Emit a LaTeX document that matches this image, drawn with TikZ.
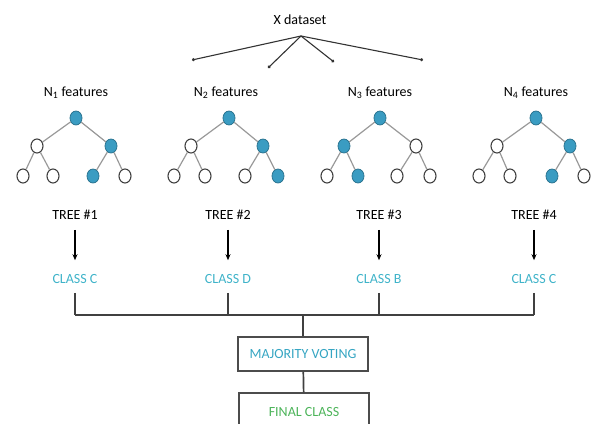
\documentclass[tikz,border=0pt]{standalone}
\usepackage{fontspec}
\setmainfont{Carlito}
\usetikzlibrary{arrows.meta,shapes.geometric}
\definecolor{nodeblue}{HTML}{3A9CC2}
\definecolor{classcyan}{HTML}{3FB3C9}
\definecolor{votecol}{HTML}{35A5C2}
\definecolor{finalgreen}{HTML}{4DB45A}
\begin{document}
\begin{tikzpicture}[x=1pt,y=-1pt,
  on/.style={ellipse,minimum width=12pt,minimum height=14pt,inner sep=0pt,draw=nodeblue!75!black,fill=nodeblue,line width=0.8pt},
  off/.style={ellipse,minimum width=12pt,minimum height=14pt,inner sep=0pt,draw=black!75,fill=white,line width=1.1pt},
  tedge/.style={draw=black!40,line width=1.2pt},
  lbl/.style={font=\fontsize{14}{16}\selectfont,text=black,inner sep=0pt},
  cls/.style={font=\fontsize{14}{16}\selectfont,text=classcyan,inner sep=0pt},
  conn/.style={draw=black!75,line width=1.7pt},
  arr/.style={draw=black,line width=1.4pt,-{Stealth[length=6pt,width=5pt]}},
  spread/.style={draw=black!80,line width=1.1pt,-{Circle[length=3pt]}},
  box/.style={draw=black!70,line width=1.5pt,minimum width=130pt,inner sep=0pt,font=\fontsize{14}{16}\selectfont}
]
\useasboundingbox (0,0) rectangle (597,423);
\clip (0,0) rectangle (597,423);

% dataset
\node[lbl] (xd) at (300,20) {X dataset};
\coordinate (src) at (301,36);
\coordinate (e1) at (192,60);
\coordinate (e2) at (268,68);
\coordinate (e3) at (334,62);
\coordinate (e4) at (423,60);
\foreach \e in {e1,e2,e3,e4} \draw[spread] (src) -- (\e);

% feature labels
\node[lbl] (f1) at (76,93) {N\textsubscript{1} features};
\node[lbl] (f2) at (226,93) {N\textsubscript{2} features};
\node[lbl] (f3) at (380,93) {N\textsubscript{3} features};
\node[lbl] (f4) at (536,93) {N\textsubscript{4} features};

% tree 1
\node[on]  (r1)  at (76,118) {};
\node[off] (a1)  at (37,146) {};
\node[on]  (b1)  at (111,146) {};
\node[off] (l11) at (23,176) {};
\node[off] (l12) at (53,176) {};
\node[on]  (l13) at (93,176) {};
\node[off] (l14) at (125,176) {};
% tree 2
\node[on]  (r2)  at (229,118) {};
\node[off] (a2)  at (191,146) {};
\node[on]  (b2)  at (263,146) {};
\node[off] (l21) at (174,176) {};
\node[off] (l22) at (205,176) {};
\node[off] (l23) at (245,176) {};
\node[on]  (l24) at (278,176) {};
% tree 3
\node[on]  (r3)  at (380,118) {};
\node[on]  (a3)  at (344,146) {};
\node[off] (b3)  at (416,146) {};
\node[off] (l31) at (327,176) {};
\node[on]  (l32) at (358,176) {};
\node[off] (l33) at (397,176) {};
\node[off] (l34) at (430,176) {};
% tree 4
\node[on]  (r4)  at (536,118) {};
\node[off] (a4)  at (497,146) {};
\node[on]  (b4)  at (570,146) {};
\node[off] (l41) at (479,176) {};
\node[off] (l42) at (510,176) {};
\node[on]  (l43) at (552,176) {};
\node[off] (l44) at (584,176) {};

\foreach \i in {1,2,3,4}{
  \draw[tedge] (r\i) -- (a\i);
  \draw[tedge] (r\i) -- (b\i);
  \draw[tedge] (a\i) -- (l\i1);
  \draw[tedge] (a\i) -- (l\i2);
  \draw[tedge] (b\i) -- (l\i3);
  \draw[tedge] (b\i) -- (l\i4);
}

% tree labels
\node[lbl] (t1) at (75,215) {TREE \#1};
\node[lbl] (t2) at (228,215) {TREE \#2};
\node[lbl] (t3) at (379,215) {TREE \#3};
\node[lbl] (t4) at (534,215) {TREE \#4};

% classes
\node[cls] (c1) at (75,279) {CLASS C};
\node[cls] (c2) at (228,279) {CLASS D};
\node[cls] (c3) at (379,279) {CLASS B};
\node[cls] (c4) at (534,279) {CLASS C};

\foreach \i in {1,2,3,4}
  \draw[arr,shorten <=10pt,shorten >=14pt] (t\i) -- (c\i);

% bus
\coordinate (busy) at (0,315);
\foreach \i in {1,2,3,4}
  \draw[conn,shorten <=9pt] (c\i) -- (c\i |- busy);
\draw[conn] (c1 |- busy) -- (c4 |- busy);

% voting and final
\node[box,minimum height=34pt,text=votecol] (mv) at (303,354) {MAJORITY VOTING};
\node[box,minimum height=38pt,text=finalgreen] (fc) at (304,412) {FINAL CLASS};
\draw[conn] (mv) -- (mv |- busy);
\draw[conn] (mv) -- (fc);
\end{tikzpicture}
\end{document}
